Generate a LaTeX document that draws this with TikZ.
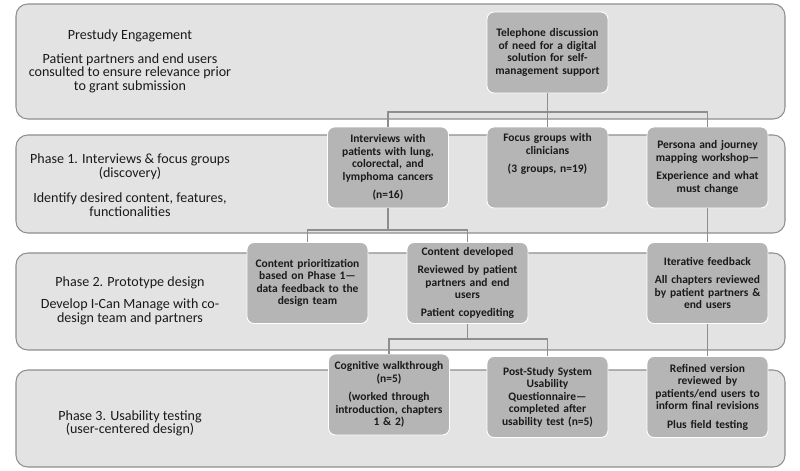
\documentclass[tikz,border=0pt]{standalone}
\usepackage{fontspec}
\setmainfont{Carlito}

\definecolor{bandfill}{HTML}{E3E3E3}
\definecolor{bandline}{HTML}{8E8E8E}
\definecolor{boxfill}{HTML}{B5B5B5}
\definecolor{inktext}{HTML}{1A1A1A}

\begin{document}
\begin{tikzpicture}[x=0.03cm,y=-0.03cm,
  band/.style={draw=bandline,fill=bandfill,line width=0.9pt,rounded corners=10pt},
  stagebox/.style={draw=white,line width=0.8pt,fill=boxfill,rounded corners=6pt,
    minimum width=3.63cm,minimum height=2.43cm,text width=3.4cm,align=center,
    inner sep=0pt,text=inktext,font=\fontsize{9.8}{10.7}\selectfont\bfseries},
  phase/.style={align=center,text=inktext,font=\fontsize{12}{11.6}\selectfont},
  link/.style={draw=bandline,line width=0.9pt}]
\useasboundingbox (0,0) rectangle (800,471);
% the four bands
\draw[band] (16,4) rectangle (785,119);
\draw[band] (16,135) rectangle (785,233);
\draw[band] (16,253) rectangle (785,350);
\draw[band] (16,370) rectangle (785,467);
% band captions
\node[phase] (pre) at (130,61) {Prestudy Engagement\\[9pt]Patient partners and end users\\consulted to ensure relevance prior\\to grant submission};
\node[phase] (ph1) at (130,185) {Phase 1. Interviews \& focus groups\\(discovery)\\[10pt]Identify desired content, features,\\functionalities};
\node[phase] (ph2) at (130,301) {Phase 2. Prototype design\\[7pt]Develop I-Can Manage with co-\\design team and partners};
\node[phase] (ph3) at (130,423.5) {Phase 3. Usability testing\\(user-centered design)};
% boxes
\node[stagebox] (tel) at (547.5,52.5) {Telephone discussion\\of need for a digital\\solution for self-\\management support};
\node[stagebox] (ints) at (388,167.5) {Interviews with\\patients with lung,\\colorectal, and\\lymphoma cancers\\[5pt](n=16)};
\node[stagebox] (focus) at (547.5,167.5) {Focus groups with\\clinicians\\[5pt](3 groups, n=19)\\[14pt]\mbox{}};
\node[stagebox] (pers) at (707.5,167.5) {Persona and journey\\mapping workshop—\\[5pt]Experience and what\\must change};
\node[stagebox] (prio) at (307.5,283) {Content prioritization\\based on Phase 1—\\data feedback to the\\design team};
\node[stagebox] (devel) at (467.5,283) {Content developed\\[5pt]Reviewed by patient\\partners and end\\users\\[5pt]Patient copyediting};
\node[stagebox] (iter) at (707.5,283) {Iterative feedback\\[5pt]All chapters reviewed\\by patient partners \&\\end users};
\node[stagebox] (cogn) at (389,394.5) {Cognitive walkthrough\\(n=5)\\[5pt](worked through\\introduction, chapters\\1 \& 2)};
\node[stagebox] (psq) at (547.5,397) {Post-Study System\\Usability\\Questionnaire—\\completed after\\usability test (n=5)};
\node[stagebox] (refin) at (707.5,397) {Refined version\\reviewed by\\patients/end users to\\inform final revisions\\[5pt]Plus field testing};
% joints
\coordinate (j1) at (547.5,112);
\coordinate (j2) at (388,230);
\coordinate (j3) at (467.5,339);
% connectors
\draw[link] (tel) -- (focus);
\draw[link] (ints.north) |- (j1) -| (pers.north);
\draw[link] (ints.south) -- (j2);
\draw[link] (prio.north) |- (j2) -| (devel.north);
\draw[link] (pers) -- (iter);
\draw[link] (iter) -- (refin);
\draw[link] (devel.south) -- (j3);
\draw[link] (cogn.north) |- (j3) -| (psq.north);
\end{tikzpicture}
\end{document}
